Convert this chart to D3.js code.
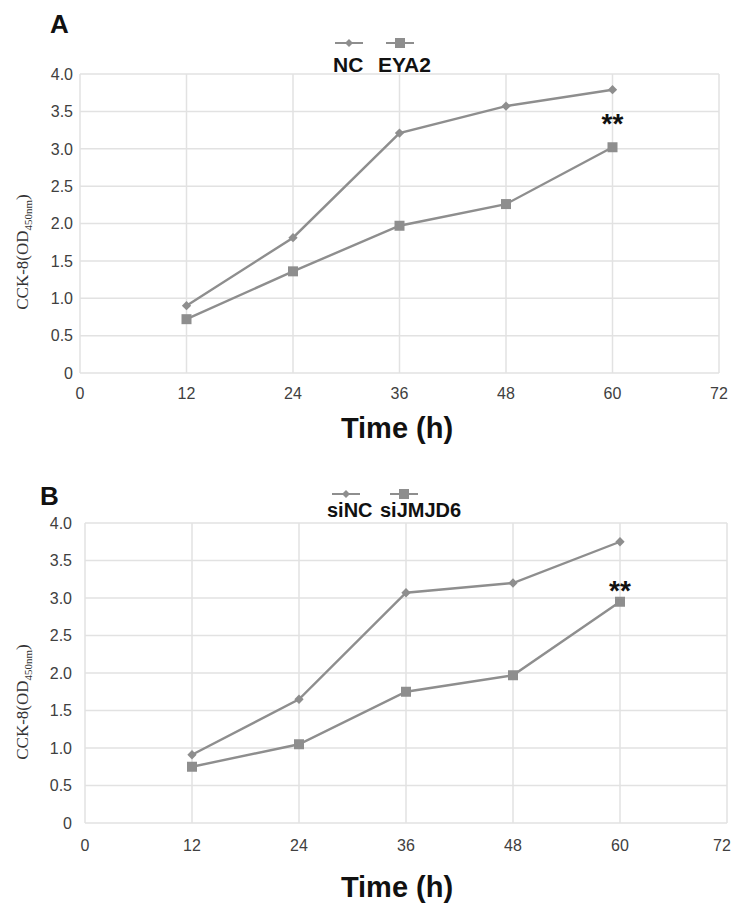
<!DOCTYPE html>
<html>
<head>
<meta charset="utf-8">
<script src="https://cdn.jsdelivr.net/npm/d3@7"></script>
<style>
  body { margin: 0; background: #fff; }
</style>
</head>
<body>
<div id="chart"></div>
<script>
// time points (h)
var timePoints = [12, 24, 36, 48, 60];
var xTicks = [0, 12, 24, 36, 48, 60, 72];
var yTicks = [0, 0.5, 1.0, 1.5, 2.0, 2.5, 3.0, 3.5, 4.0];

// panel A
var ncValues = [0.90, 1.81, 3.21, 3.57, 3.79];
var eya2Values = [0.72, 1.36, 1.97, 2.26, 3.02];
// panel B
var siNCValues = [0.91, 1.65, 3.07, 3.20, 3.75];
var siJMJD6Values = [0.75, 1.05, 1.75, 1.97, 2.95];

var seriesNamesA = ["NC", "EYA2"];
var seriesNamesB = ["siNC", "siJMJD6"];

var width = 732, height = 903;
var sans = "'Liberation Sans', Arial, sans-serif";
var lineColor = "#8e8e8e";
var gridColor = "#e2e2e2";

var svg = d3.select("#chart").append("svg")
    .attr("width", width)
    .attr("height", height)
    .style("font-family", sans);

function drawPanel(opts) {
    var x = d3.scaleLinear().domain([0, 72]).range([opts.left, opts.right]);
    var y = d3.scaleLinear().domain([0, 4]).range([opts.bottom, opts.top]);
    var g = svg.append("g");

    // grid
    g.selectAll(".hgrid").data(yTicks).enter().append("line")
        .attr("x1", x(0)).attr("x2", x(72))
        .attr("y1", function(d){ return y(d); }).attr("y2", function(d){ return y(d); })
        .attr("stroke", gridColor).attr("stroke-width", 1.5);
    g.selectAll(".vgrid").data(xTicks).enter().append("line")
        .attr("y1", y(0)).attr("y2", y(4))
        .attr("x1", function(d){ return x(d); }).attr("x2", function(d){ return x(d); })
        .attr("stroke", gridColor).attr("stroke-width", 1.5);

    // tick labels
    g.selectAll(".ylab").data(yTicks).enter().append("text")
        .attr("x", opts.yLabRight)
        .attr("y", function(d){ return y(d); })
        .attr("dy", "0.36em")
        .attr("text-anchor", "end")
        .attr("font-size", 16)
        .attr("fill", "#404040")
        .text(function(d){ return d === 0 ? "0" : d3.format(".1f")(d); });
    g.selectAll(".xlab").data(xTicks).enter().append("text")
        .attr("x", function(d){ return Math.min(x(d), width - 10); })
        .attr("y", y(0) + opts.xLabOff)
        .attr("text-anchor", "middle")
        .attr("font-size", 16)
        .attr("fill", "#404040")
        .text(function(d){ return d; });

    // axis titles
    g.append("text")
        .attr("x", 397).attr("y", y(0) + opts.titleOff)
        .attr("text-anchor", "middle")
        .attr("font-size", 29).attr("font-weight", "bold")
        .attr("fill", "#111")
        .text("Time (h)");

    var yl = g.append("text")
        .attr("transform", "translate(" + opts.ylabX + "," + opts.ylabY + ") rotate(-90)")
        .attr("text-anchor", "middle")
        .style("font-family", "'Liberation Serif', 'Times New Roman', serif")
        .attr("font-size", 17)
        .attr("fill", "#333");
    yl.append("tspan").text("CCK-8(OD");
    yl.append("tspan").attr("font-size", 11).attr("dy", 4).text("450nm");
    yl.append("tspan").attr("dy", -4).text(")");

    // panel letter
    g.append("text")
        .attr("x", opts.letterX).attr("y", opts.letterY)
        .attr("font-size", 26).attr("font-weight", "bold")
        .attr("fill", "#111")
        .text(opts.letter);

    var line = d3.line()
        .x(function(d, i){ return x(timePoints[i]); })
        .y(function(d){ return y(d); });

    // series 1 (diamond)
    g.append("path").datum(opts.s1)
        .attr("d", line).attr("fill", "none")
        .attr("stroke", lineColor).attr("stroke-width", 2.4);
    g.selectAll(".m1").data(opts.s1).enter().append("path")
        .attr("d", d3.symbol().type(d3.symbolDiamond2).size(55))
        .attr("transform", function(d, i){ return "translate(" + x(timePoints[i]) + "," + y(d) + ")"; })
        .attr("fill", lineColor);

    // series 2 (square)
    g.append("path").datum(opts.s2)
        .attr("d", line).attr("fill", "none")
        .attr("stroke", lineColor).attr("stroke-width", 2.4);
    g.selectAll(".m2").data(opts.s2).enter().append("rect")
        .attr("x", function(d, i){ return x(timePoints[i]) - 5; })
        .attr("y", function(d){ return y(d) - 5; })
        .attr("width", 10).attr("height", 10)
        .attr("fill", lineColor);

    // significance mark above last point
    var last = opts.s2.length - 1;
    g.append("text")
        .attr("x", x(timePoints[last]))
        .attr("y", y(opts.s2[last]) + opts.starOff)
        .attr("text-anchor", "middle")
        .attr("font-size", 28).attr("font-weight", "bold")
        .attr("fill", "#111")
        .text("**");

    // legend
    opts.names.forEach(function(name, i) {
        var cx = opts.legendX[i];
        g.append("line")
            .attr("x1", cx - 14).attr("x2", cx + 14)
            .attr("y1", opts.legendY).attr("y2", opts.legendY)
            .attr("stroke", lineColor).attr("stroke-width", 2);
        if (i === 0) {
            g.append("path")
                .attr("d", d3.symbol().type(d3.symbolDiamond2).size(40))
                .attr("transform", "translate(" + cx + "," + opts.legendY + ")")
                .attr("fill", lineColor);
        } else {
            g.append("rect")
                .attr("x", cx - 5).attr("y", opts.legendY - 5)
                .attr("width", 10).attr("height", 10)
                .attr("fill", lineColor);
        }
        g.append("text")
            .attr("x", opts.textX[i]).attr("y", opts.legendY + opts.legendTextOff)
            .attr("font-size", opts.legendFont).attr("font-weight", "bold")
            .attr("fill", "#111")
            .text(name);
    });
}

drawPanel({
    left: 80, right: 719, top: 74, bottom: 373,
    s1: ncValues, s2: eya2Values, names: seriesNamesA,
    legendX: [349, 400], textX: [333, 378], legendY: 43, legendTextOff: 29, legendFont: 21,
    letter: "A", letterX: 50, letterY: 33,
    ylabX: 28, ylabY: 252,
    yLabRight: 73, xLabOff: 26, titleOff: 65, starOff: -14
});

drawPanel({
    left: 85, right: 727, top: 523, bottom: 823,
    s1: siNCValues, s2: siJMJD6Values, names: seriesNamesB,
    legendX: [346, 404], textX: [327, 380], legendY: 494, legendTextOff: 23, legendFont: 20,
    letter: "B", letterX: 40, letterY: 505,
    ylabX: 28, ylabY: 702,
    yLabRight: 72, xLabOff: 28, titleOff: 74, starOff: -2
});
</script>
</body>
</html>
